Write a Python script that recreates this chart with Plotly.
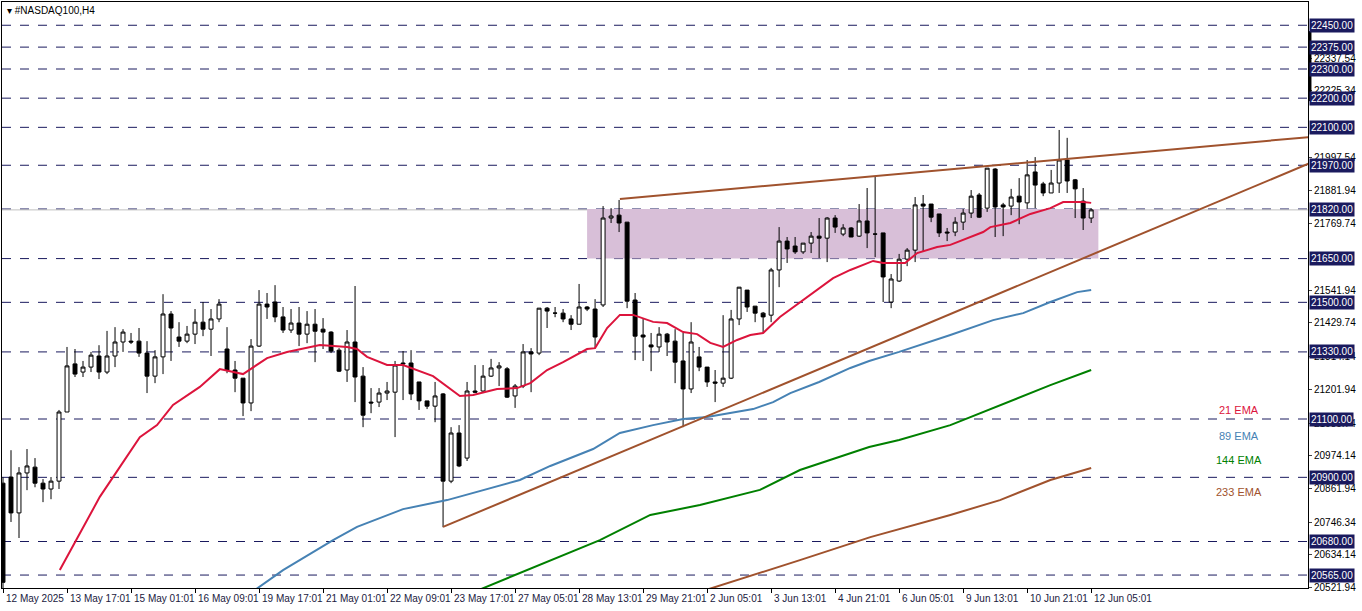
import plotly.graph_objects as go

opens  = [20880,20901,20778,20915,20935,20880,20860,20887,21124,21289,21261,21278,21316,21261,21316,21364,21367,21367,21326,21247,
          21313,21460,21381,21367,21391,21432,21408,21443,21340,21268,21240,21155,21350,21494,21501,21450,21405,21429,21391,21425,
          21408,21398,21336,21268,21364,21247,21158,21158,21189,21192,21292,21292,21227,21162,21144,21186,20887,21052,20966,21196,
          21196,21247,21275,21272,21179,21213,21330,21326,21480,21463,21463,21443,21425,21484,21477,21491,21789,21799,21775,21508,
          21388,21354,21347,21391,21367,21299,21203,21313,21278,21227,21223,21240,21443,21542,21487,21463,21456,21611,21710,21693,
          21673,21703,21727,21720,21789,21734,21755,21727,21779,21734,21738,21501,21573,21648,21679,21837,21837,21803,21741,21741,
          21775,21806,21868,21823,21957,21834,21830,21864,21841,21947,21906,21875,21909,21988,21920,21847,21789]
highs  = [20900,20993,20935,20997,20966,20894,20901,21131,21347,21340,21299,21330,21353,21402,21415,21408,21395,21412,21367,21336,
          21528,21470,21432,21419,21477,21501,21477,21511,21415,21299,21240,21374,21542,21532,21559,21484,21477,21484,21470,21477,
          21446,21401,21343,21405,21556,21278,21206,21206,21227,21299,21333,21336,21227,21162,21227,21189,21072,21079,21227,21285,
          21285,21306,21295,21278,21220,21357,21343,21480,21484,21484,21477,21456,21563,21487,21511,21830,21823,21851,21775,21532,
          21443,21395,21415,21395,21408,21395,21432,21347,21278,21268,21456,21474,21552,21542,21487,21467,21618,21758,21724,21724,
          21703,21741,21789,21792,21799,21768,21758,21837,21892,21930,21738,21597,21666,21686,21861,21868,21837,21803,21755,21792,
          21820,21885,21875,21960,21960,21841,21889,21926,21988,21998,21913,21954,22091,22064,21923,21892,21823]
lows   = [20520,20747,20692,20856,20866,20815,20825,20860,21124,21244,21244,21261,21237,21254,21278,21330,21357,21313,21189,21223,
          21254,21299,21347,21360,21357,21384,21316,21432,21257,21192,21110,21127,21347,21443,21432,21395,21395,21350,21360,21295,
          21340,21326,21261,21227,21158,21072,21120,21141,21165,21038,21165,21165,21131,21134,21089,20729,20880,20935,20956,21189,
          21189,21244,21213,21172,21138,21206,21192,21319,21412,21449,21432,21405,21425,21470,21343,21484,21772,21741,21480,21302,
          21299,21264,21330,21316,21223,21072,21189,21264,21210,21158,21210,21237,21422,21467,21432,21395,21432,21552,21635,21666,
          21666,21669,21652,21638,21738,21727,21724,21724,21686,21655,21501,21480,21570,21624,21638,21673,21775,21724,21710,21727,
          21748,21789,21789,21810,21724,21727,21799,21768,21820,21823,21864,21875,21875,21875,21789,21748,21772]
closes = [20540,20778,20915,20939,20880,20860,20887,21124,21282,21254,21278,21319,21261,21316,21364,21398,21364,21326,21247,21313,
          21460,21412,21367,21391,21432,21408,21443,21494,21268,21240,21155,21350,21494,21484,21450,21405,21429,21391,21425,21401,
          21398,21333,21264,21364,21244,21113,21155,21189,21196,21285,21289,21186,21162,21144,21179,20887,21052,20939,21196,21192,
          21247,21275,21282,21175,21213,21330,21323,21480,21470,21463,21443,21425,21484,21477,21381,21789,21796,21772,21504,21384,
          21381,21347,21391,21364,21295,21203,21364,21278,21227,21223,21240,21443,21552,21484,21463,21450,21611,21710,21683,21673,
          21703,21727,21720,21789,21758,21755,21724,21779,21738,21734,21587,21580,21648,21679,21834,21830,21792,21738,21738,21775,
          21806,21864,21792,21960,21827,21827,21861,21844,21937,21902,21875,21909,21988,21916,21889,21789,21817]

ema21_idx = [7.1,12.1,17.1,19.25,21.25,24.6,27.1,30,33,35.5,39.6,43,44.25,45.5,48,50,53.75,55.5,57.1,58.75,61.75,64.25,65.9,68,70,73,74,
             75.5,77.1,78.75,81.25,83,85,86.75,88.4,90,91.75,93.4,95,97.1,100,103.75,105.9,108.75,110,112.75,114.25,116.75,118.4,
             120.9,122.5,123.4,125.9,128.4,130.9,132.5,135,136]
ema21_val = [20582,20833,21038,21079,21148,21210,21271,21254,21309,21330,21354,21347,21340,21313,21285,21285,21247,21210,21179,21182,
             21203,21206,21223,21268,21295,21340,21343,21412,21457,21457,21433,21429,21398,21391,21361,21347,21371,21388,21395,21450,
             21508,21583,21611,21642,21635,21635,21669,21690,21697,21724,21741,21758,21772,21803,21823,21844,21844,21841]
ema89_idx = [31.5,35,41.25,44.25,50,55.5,64.6,68.4,73.75,77.1,81.25,85,88,90.9,93.75,96.25,98.4,102,105.9,108.25,112,118.4,123.75,
             127.5,130.9,134.25,136]
ema89_val = [20514,20582,20685,20730,20791,20822,20891,20939,20997,21052,21079,21100,21107,21121,21134,21158,21189,21227,21275,21299,
             21330,21388,21439,21463,21501,21535,21542]
ema144_idx = [59.4,67.1,74.6,80.9,87.1,94.6,99.6,108.25,112,118.4,124.6,130.9,136]
ema144_val = [20513,20599,20685,20771,20805,20857,20925,21004,21028,21079,21148,21216,21268]
ema233_idx = [87.75,94.6,99.6,108.4,118.4,124.6,130.9,136]
ema233_val = [20513,20572,20616,20695,20771,20822,20891,20932]

upper_trend_idx = [77.1, 163.4]
upper_trend_val = [21854, 22067]
lower_trend_idx = [55, 163.4]
lower_trend_val = [20730, 21978]
zone_idx = [73, 136.9]
zone_val = [21650, 21820]

levels = [22450,22375,22300,22200,22100,21970,21820,21650,21500,21330,21100,20900,20680,20565]
scale_ticks = [22337.54,22225.34,21997.54,21881.94,21769.74,21541.94,21429.74,21314.14,21201.94,21085.74,20974.14,20861.94,20746.34,20634.14,20521.94]
date_idx = list(range(0, 137, 8))
date_labels = ["12 May 2025","13 May 17:01","15 May 01:01","16 May 09:01","19 May 17:01","21 May 01:01","22 May 09:01",
               "23 May 17:01","27 May 05:01","28 May 13:01","29 May 21:01","2 Jun 05:01","3 Jun 13:01","4 Jun 21:01",
               "6 Jun 05:01","9 Jun 13:01","10 Jun 21:01","12 Jun 05:01"]
ema_labels = ["21 EMA", "89 EMA", "144 EMA", "233 EMA"]
ema_label_y = [21131, 21042, 20959, 20850]

NAVY = "#1a1a5e"
FONT = "Liberation Sans"
fig = go.Figure()

fig.add_shape(type="rect", x0=zone_idx[0], x1=zone_idx[1], y0=zone_val[0], y1=zone_val[1],
              fillcolor="#d8bfd8", line_width=0, layer="below")
for lv in levels:
    fig.add_shape(type="line", xref="paper", x0=0, x1=1, y0=lv, y1=lv,
                  line=dict(color=NAVY, width=1, dash="dash"), layer="below")
fig.add_shape(type="line", xref="paper", x0=0, x1=1, y0=21817, y1=21817, line=dict(color="#c0c0c0", width=1), layer="below")
fig.add_shape(type="line", xref="paper", x0=1.0015, x1=1.0015, y0=22430, y1=22190, line=dict(color="black", width=3))

fig.add_trace(go.Scatter(x=ema233_idx, y=ema233_val, mode="lines", line=dict(color="#a0522d", width=2), hoverinfo="skip"))
fig.add_trace(go.Scatter(x=ema144_idx, y=ema144_val, mode="lines", line=dict(color="#008000", width=2), hoverinfo="skip"))
fig.add_trace(go.Scatter(x=ema89_idx, y=ema89_val, mode="lines", line=dict(color="#4682b4", width=2), hoverinfo="skip"))
fig.add_trace(go.Scatter(x=upper_trend_idx, y=upper_trend_val, mode="lines", line=dict(color="#a0522d", width=2), hoverinfo="skip"))
fig.add_trace(go.Scatter(x=lower_trend_idx, y=lower_trend_val, mode="lines", line=dict(color="#a0522d", width=2), hoverinfo="skip"))
fig.add_trace(go.Candlestick(x=list(range(len(opens))), open=opens, high=highs, low=lows, close=closes,
                             increasing=dict(fillcolor="white", line=dict(color="black", width=1)),
                             decreasing=dict(fillcolor="black", line=dict(color="black", width=1)),
                             whiskerwidth=0))
fig.add_trace(go.Scatter(x=ema21_idx, y=ema21_val, mode="lines", line=dict(color="#dc143c", width=2), hoverinfo="skip"))

for lv in levels:
    fig.add_annotation(xref="paper", x=1.0, y=lv, xanchor="left", yanchor="middle", xshift=1,
                       text=f"{lv:.2f}", showarrow=False, bgcolor=NAVY, font=dict(color="white", size=10, family=FONT),
                       borderpad=1)
for i, lab in zip(date_idx, date_labels):
    fig.add_annotation(x=i, yref="paper", y=0, yanchor="top", xanchor="left", yshift=-3, xshift=1,
                       text=lab, showarrow=False, font=dict(color="#202040", size=10, family=FONT))
for txt, col, yy in zip(ema_labels, ["#dc143c", "#4682b4", "#008000", "#a0522d"], ema_label_y):
    fig.add_annotation(x=154.5, y=yy, text=txt, showarrow=False, font=dict(color=col, size=11, family=FONT), xanchor="center")
fig.add_annotation(xref="paper", yref="paper", x=0.002, y=0.998, xanchor="left", yanchor="top",
                   text="▾ #NASDAQ100,H4", showarrow=False, font=dict(color="black", size=10, family=FONT))

fig.update_layout(width=1362, height=611, margin=dict(l=2, r=54, t=2, b=23, autoexpand=False),
                  paper_bgcolor="white", plot_bgcolor="white", showlegend=False,
                  xaxis=dict(range=[-0.125, 163.1], showticklabels=False, showgrid=False, zeroline=False, automargin=False,
                             rangeslider=dict(visible=False), showline=True, linecolor="black", mirror=True,
                             ticks="outside", tickvals=date_idx, ticklen=4, tickcolor="black"),
                  yaxis=dict(range=[20520.6, 22529.7], side="right", showgrid=False, zeroline=False, automargin=False,
                             tickvals=scale_ticks, ticktext=[f"{t:.2f}" for t in scale_ticks],
                             tickfont=dict(size=10, family=FONT, color="black"), ticks="outside", ticklen=3,
                             showline=True, linecolor="black", mirror=True))
fig.write_html("out.html", config={"displayModeBar": False},
               post_script="document.body.style.margin='0';document.body.style.overflow='hidden';")
